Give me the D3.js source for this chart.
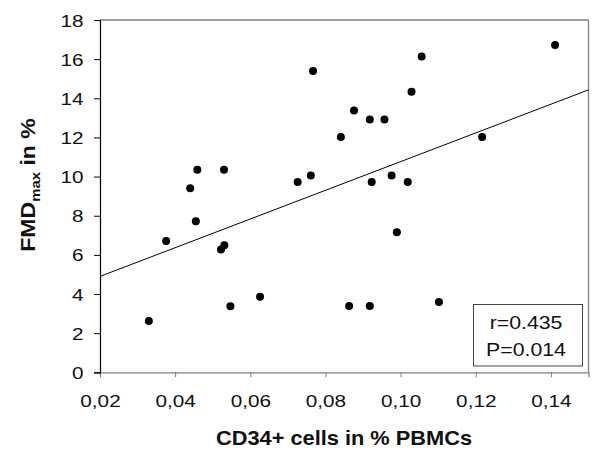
<!DOCTYPE html>
<html><head><meta charset="utf-8">
<script src="https://cdn.jsdelivr.net/npm/d3@7"></script>
<style>body{margin:0;background:#fff}svg{display:block}</style>
</head><body>
<svg id="c" width="600" height="461"></svg>
<script>
const cd34 = [0.0330, 0.0376, 0.0440, 0.0455, 0.0459, 0.0522, 0.0531, 0.0530, 0.0547, 0.0626, 0.0726, 0.0761, 0.0767, 0.0841, 0.0863, 0.0876, 0.0918, 0.0918, 0.0923, 0.0957, 0.0976, 0.0990, 0.1019, 0.1029, 0.1056, 0.1102, 0.1217, 0.1411];
const fmd  = [2.62, 6.71, 9.40, 7.72, 10.35, 6.28, 6.49, 10.35, 3.37, 3.86, 9.72, 10.05, 15.40, 12.02, 3.39, 13.37, 12.91, 3.39, 9.72, 12.91, 10.05, 7.15, 9.72, 14.34, 16.13, 3.59, 12.02, 16.72];
const fitX = [0.02, 0.15];
const fitY = [4.9, 14.43];
const xTicks = [0.02, 0.04, 0.06, 0.08, 0.10, 0.12, 0.14];
const yTicks = [0, 2, 4, 6, 8, 10, 12, 14, 16, 18];
const statLines = ["r=0.435", "P=0.014"];

const svg = d3.select("#c");
const L = 100, R = 588.5, T = 20, B = 372.3;
const x = d3.scaleLinear().domain([0.02, 0.15]).range([L, R]);
const y = d3.scaleLinear().domain([0, 18]).range([B, T]);
const font = "Arial, 'Liberation Sans', sans-serif";
const sx = 1.22;

// frame top/right
svg.append("line").attr("x1", L).attr("x2", R).attr("y1", T).attr("y2", T).attr("stroke", "#808080").attr("stroke-width", 1.3);
svg.append("line").attr("x1", R).attr("x2", R).attr("y1", T).attr("y2", B).attr("stroke", "#808080").attr("stroke-width", 1.3);

// x axis
const gx = svg.append("g").attr("transform", `translate(0,${B})`)
  .call(d3.axisBottom(x).tickValues(xTicks).tickSize(5).tickFormat(d => d3.format(".2f")(d).replace(".", ",")));
gx.select(".domain").attr("stroke", "#808080").attr("stroke-width", 1.3);
gx.selectAll(".tick line").attr("stroke", "#808080");
gx.selectAll(".tick text").attr("font-family", font).attr("font-size", 17).attr("fill", "#111")
  .attr("y", 34.7).attr("dy", 0).attr("transform", `scale(${sx},1)`);

// y axis
const gy = svg.append("g").attr("transform", `translate(${L},0)`)
  .call(d3.axisLeft(y).tickValues(yTicks).tickSize(6).tickFormat(d3.format("d")));
gy.select(".domain").attr("stroke", "#000").attr("stroke-width", 1.2);
gy.selectAll(".tick line").attr("stroke", "#000");
gy.selectAll(".tick text").attr("font-family", font).attr("font-size", 17).attr("fill", "#111")
  .attr("x", -16.5 / sx).attr("dy", "0.36em").attr("transform", `scale(${sx},1)`);

// regression line
svg.append("line").attr("x1", x(fitX[0])).attr("y1", y(fitY[0])).attr("x2", x(fitX[1])).attr("y2", y(fitY[1]))
  .attr("stroke", "#000").attr("stroke-width", 1);

// points
svg.append("g").selectAll("circle").data(cd34.map((v, i) => [v, fmd[i]])).join("circle")
  .attr("cx", d => x(d[0])).attr("cy", d => y(d[1])).attr("r", 4).attr("fill", "#000");

// stats box
svg.append("rect").attr("x", 473.5).attr("y", 304.5).attr("width", 109).attr("height", 61.5)
  .attr("fill", "#fff").attr("stroke", "#444").attr("stroke-width", 1);
svg.append("g").selectAll("text").data(statLines).join("text")
  .attr("x", 526 / 1.15).attr("y", (d, i) => 329.5 + i * 26.5)
  .attr("transform", "scale(1.15,1)")
  .attr("text-anchor", "middle").attr("font-family", font).attr("font-size", 18.5).attr("fill", "#111")
  .text(d => d);

// x title
svg.append("text").attr("x", 344 / 1.09).attr("y", 445).attr("transform", "scale(1.09,1)")
  .attr("text-anchor", "middle").attr("font-family", font).attr("font-size", 20).attr("font-weight", "bold").attr("fill", "#111")
  .text("CD34+ cells in % PBMCs");

// y title
const yt = svg.append("text").attr("transform", "translate(35,185) rotate(-90) scale(1.15,1)")
  .attr("text-anchor", "middle").attr("font-family", font).attr("font-size", 20).attr("font-weight", "bold").attr("fill", "#111");
yt.append("tspan").text("FMD");
yt.append("tspan").attr("font-size", 13).attr("dy", 5).text("max");
yt.append("tspan").attr("dy", -5).text(" in %");
</script>
</body></html>
